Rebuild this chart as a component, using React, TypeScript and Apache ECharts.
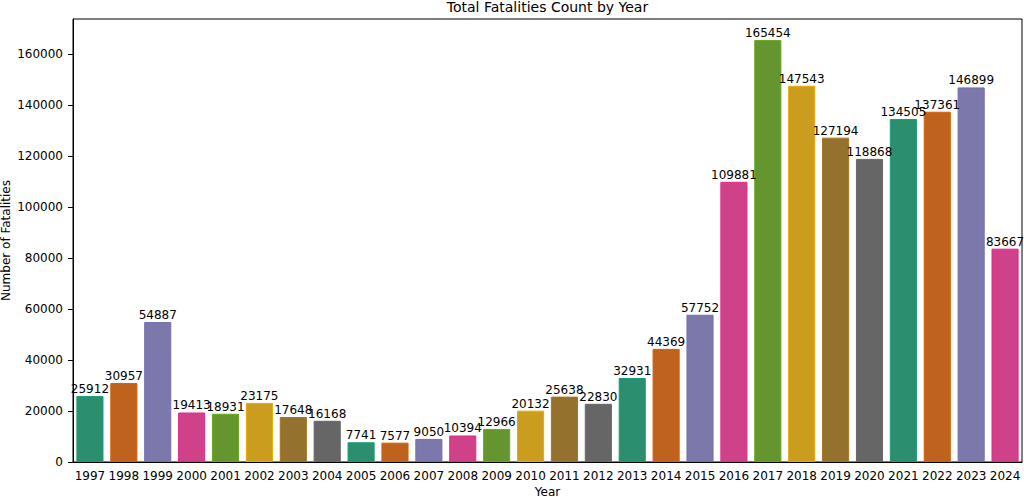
import * as React from "react";
import * as echarts from "echarts";
import { useEffect, useRef } from "react";

const years = [
  "1997", "1998", "1999", "2000", "2001", "2002", "2003", "2004", "2005", "2006",
  "2007", "2008", "2009", "2010", "2011", "2012", "2013", "2014", "2015", "2016",
  "2017", "2018", "2019", "2020", "2021", "2022", "2023", "2024",
];

const fatalities = [
  25912, 30957, 54887, 19413, 18931, 23175, 17648, 16168, 7741, 7577,
  9050, 10394, 12966, 20132, 25638, 22830, 32931, 44369, 57752, 109881,
  165454, 147543, 127194, 118868, 134505, 137361, 146899, 83667,
];

const yTicks = [0, 20000, 40000, 60000, 80000, 100000, 120000, 140000, 160000];

// Dark2, desaturated like seaborn's saturation=.75 for the fill
const fillColors = ["#2b8e6f", "#be621d", "#7c78ab", "#cf4189", "#65952f", "#ca9d1e", "#95712e", "#666666"];
const edgeColors = ["#1b9e77", "#d95f02", "#7570b3", "#e7298a", "#66a61e", "#e6ab02", "#a6761d", "#666666"];

const FONT = "DejaVu Sans";

const App = () => {
  const chartRef = useRef<HTMLDivElement>(null);

  useEffect(() => {
    document.body.style.margin = "0";
    if (!chartRef.current) return;
    const myChart = echarts.init(chartRef.current, null, { renderer: "svg" });

    const option = {
      animation: false,
      textStyle: { fontFamily: FONT, color: "#000" },
      grid: {
        left: 73,
        right: 2,
        top: 19,
        bottom: 35,
        outerBoundsMode: "none",
        containLabel: false,
        show: true,
        borderColor: "#000",
        borderWidth: 1,
      },
      graphic: [
        {
          type: "text",
          x: 547.5,
          y: 7,
          style: {
            text: "Total Fatalities Count by Year",
            fontFamily: FONT,
            fontSize: 14,
            fill: "#000",
            textAlign: "center",
            textVerticalAlign: "middle",
          },
        },
      ],
      xAxis: {
        type: "category",
        data: years,
        name: "Year",
        nameLocation: "middle",
        nameGap: 24,
        nameMoveOverlap: false,
        nameTextStyle: { fontFamily: FONT, fontSize: 12, color: "#000" },
        axisLine: { lineStyle: { color: "#000", width: 1 } },
        axisTick: { alignWithLabel: true, length: 5, lineStyle: { color: "#000" } },
        axisLabel: { fontFamily: FONT, fontSize: 12, color: "#000", margin: 8, interval: 0 },
      },
      yAxis: {
        type: "value",
        min: 0,
        max: 173727,
        interval: 20000,
        name: "Number of Fatalities",
        nameLocation: "middle",
        nameGap: 61,
        nameMoveOverlap: false,
        nameTextStyle: { fontFamily: FONT, fontSize: 12, color: "#000" },
        splitLine: { show: false },
        axisLine: { show: true, lineStyle: { color: "#000", width: 1 } },
        axisTick: { show: true, length: 5, lineStyle: { color: "#000" }, customValues: yTicks },
        axisLabel: {
          fontFamily: FONT,
          fontSize: 12,
          color: "#000",
          margin: 10,
          customValues: yTicks,
          formatter: (v: number) => String(v),
        },
      },
      series: [
        {
          type: "bar",
          barCategoryGap: "20%",
          data: fatalities.map((v, i) => ({
            value: v,
            itemStyle: {
              color: fillColors[i % 8],
              borderColor: edgeColors[i % 8],
              borderWidth: 1,
            },
          })),
          label: {
            show: true,
            position: "top",
            distance: 1,
            fontFamily: FONT,
            fontSize: 12,
            color: "#000",
          },
        },
      ],
    };

    myChart.setOption(option as any);

    return () => {
      myChart.dispose();
    };
  }, []);

  return <div ref={chartRef} style={{ width: 1024, height: 497 }} />;
};

export default App;
